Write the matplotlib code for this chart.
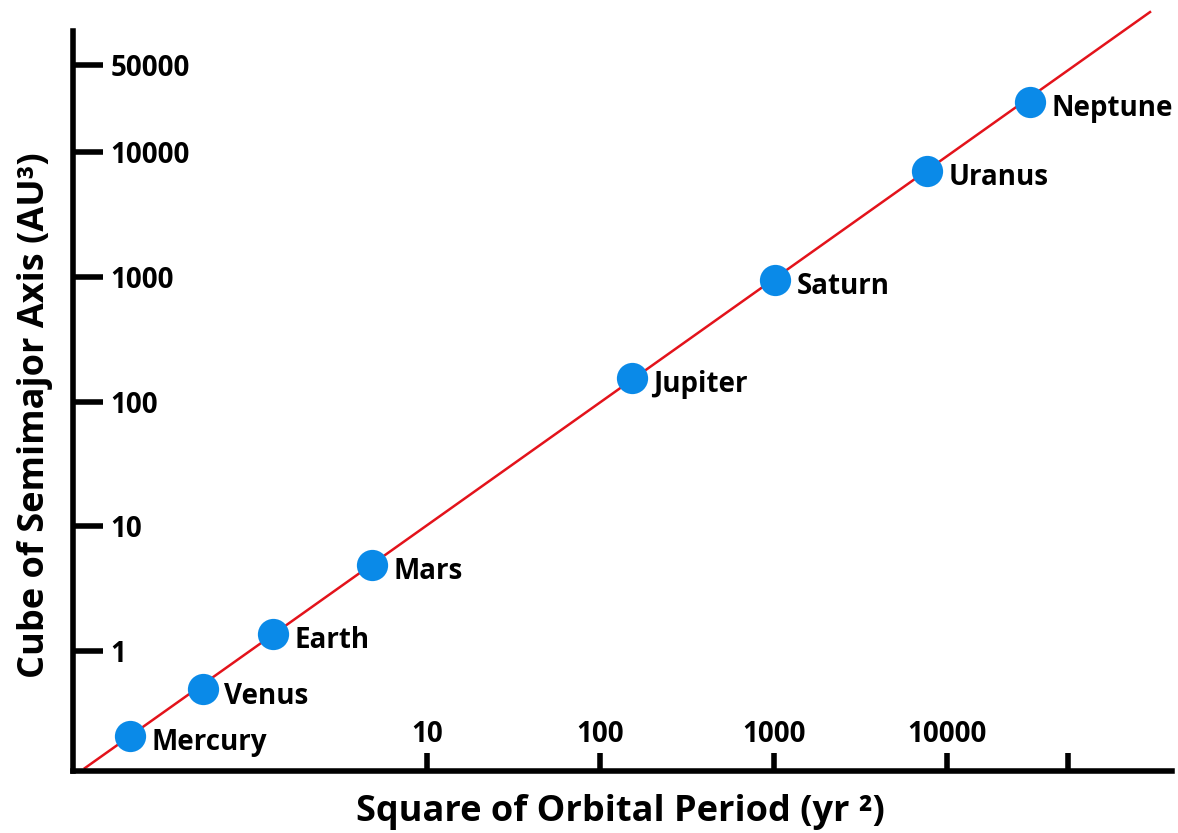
import matplotlib.pyplot as plt

plt.rcParams['font.family'] = ['Open Sans', 'DejaVu Sans']
plt.rcParams['font.weight'] = 'bold'

# values (log-log chart)
planets = ['Mercury', 'Venus', 'Earth', 'Mars', 'Jupiter', 'Saturn', 'Uranus', 'Neptune']
period_sq = [0.193, 0.509, 1.29, 4.82, 152, 1020, 7670, 30200]
axis_cube = [0.208, 0.495, 1.37, 4.90, 155, 944, 7060, 25300]

# Kepler's third law line
line_x = [0.106, 148600]
line_y = [0.115, 133000]

xticks = [10, 100, 1000, 10000, 50000]
xtick_labels = ['10', '100', '1000', '10000', '']
yticks = [1, 10, 100, 1000, 10000, 50000]
ytick_labels = ['1', '10', '100', '1000', '10000', '50000']

fig = plt.figure(figsize=(11.78, 8.33), dpi=100)
ax = fig.add_axes([0.0620, 0.0744, 0.9329, 0.8887])
ax.set_xscale('log')
ax.set_yscale('log')
ax.set_xlim(0.0906, 199000)
ax.set_ylim(0.109, 94200)

ax.plot(line_x, line_y, color='#e3131b', lw=1.8, clip_on=False, zorder=2)
ax.plot(period_sq, axis_cube, 'o', ms=22.5, color='#0a8ae8', mec='none', zorder=3)

for name, x, y in zip(planets, period_sq, axis_cube):
    ax.annotate(name, (x, y), xytext=(15.5, -5), textcoords='offset points',
                ha='left', va='center', fontsize=20, fontweight='bold')

for s in ['top', 'right']:
    ax.spines[s].set_visible(False)
for s in ['left', 'bottom']:
    ax.spines[s].set_linewidth(4)

ax.minorticks_off()
ax.set_xticks(xticks)
ax.set_xticklabels(xtick_labels)
ax.set_yticks(yticks)
ax.set_yticklabels(ytick_labels)
ax.tick_params(axis='x', direction='in', length=13, width=4, pad=-16, labelsize=20)
ax.tick_params(axis='y', direction='in', length=21.5, width=4, pad=-27, labelsize=20)
for lab in ax.get_yticklabels():
    lab.set_horizontalalignment('left')
for lab in ax.get_xticklabels():
    lab.set_verticalalignment('bottom')

fig.text(620 / 1178, 1 - 812 / 833, 'Square of Orbital Period (yr ²)',
         ha='center', va='center', fontsize=26, fontweight='bold')
fig.text(35 / 1178, 1 - 415 / 833, 'Cube of Semimajor Axis (AU³)',
         ha='center', va='center', fontsize=26, fontweight='bold', rotation=90)

fig.savefig('out.png', dpi=100)
